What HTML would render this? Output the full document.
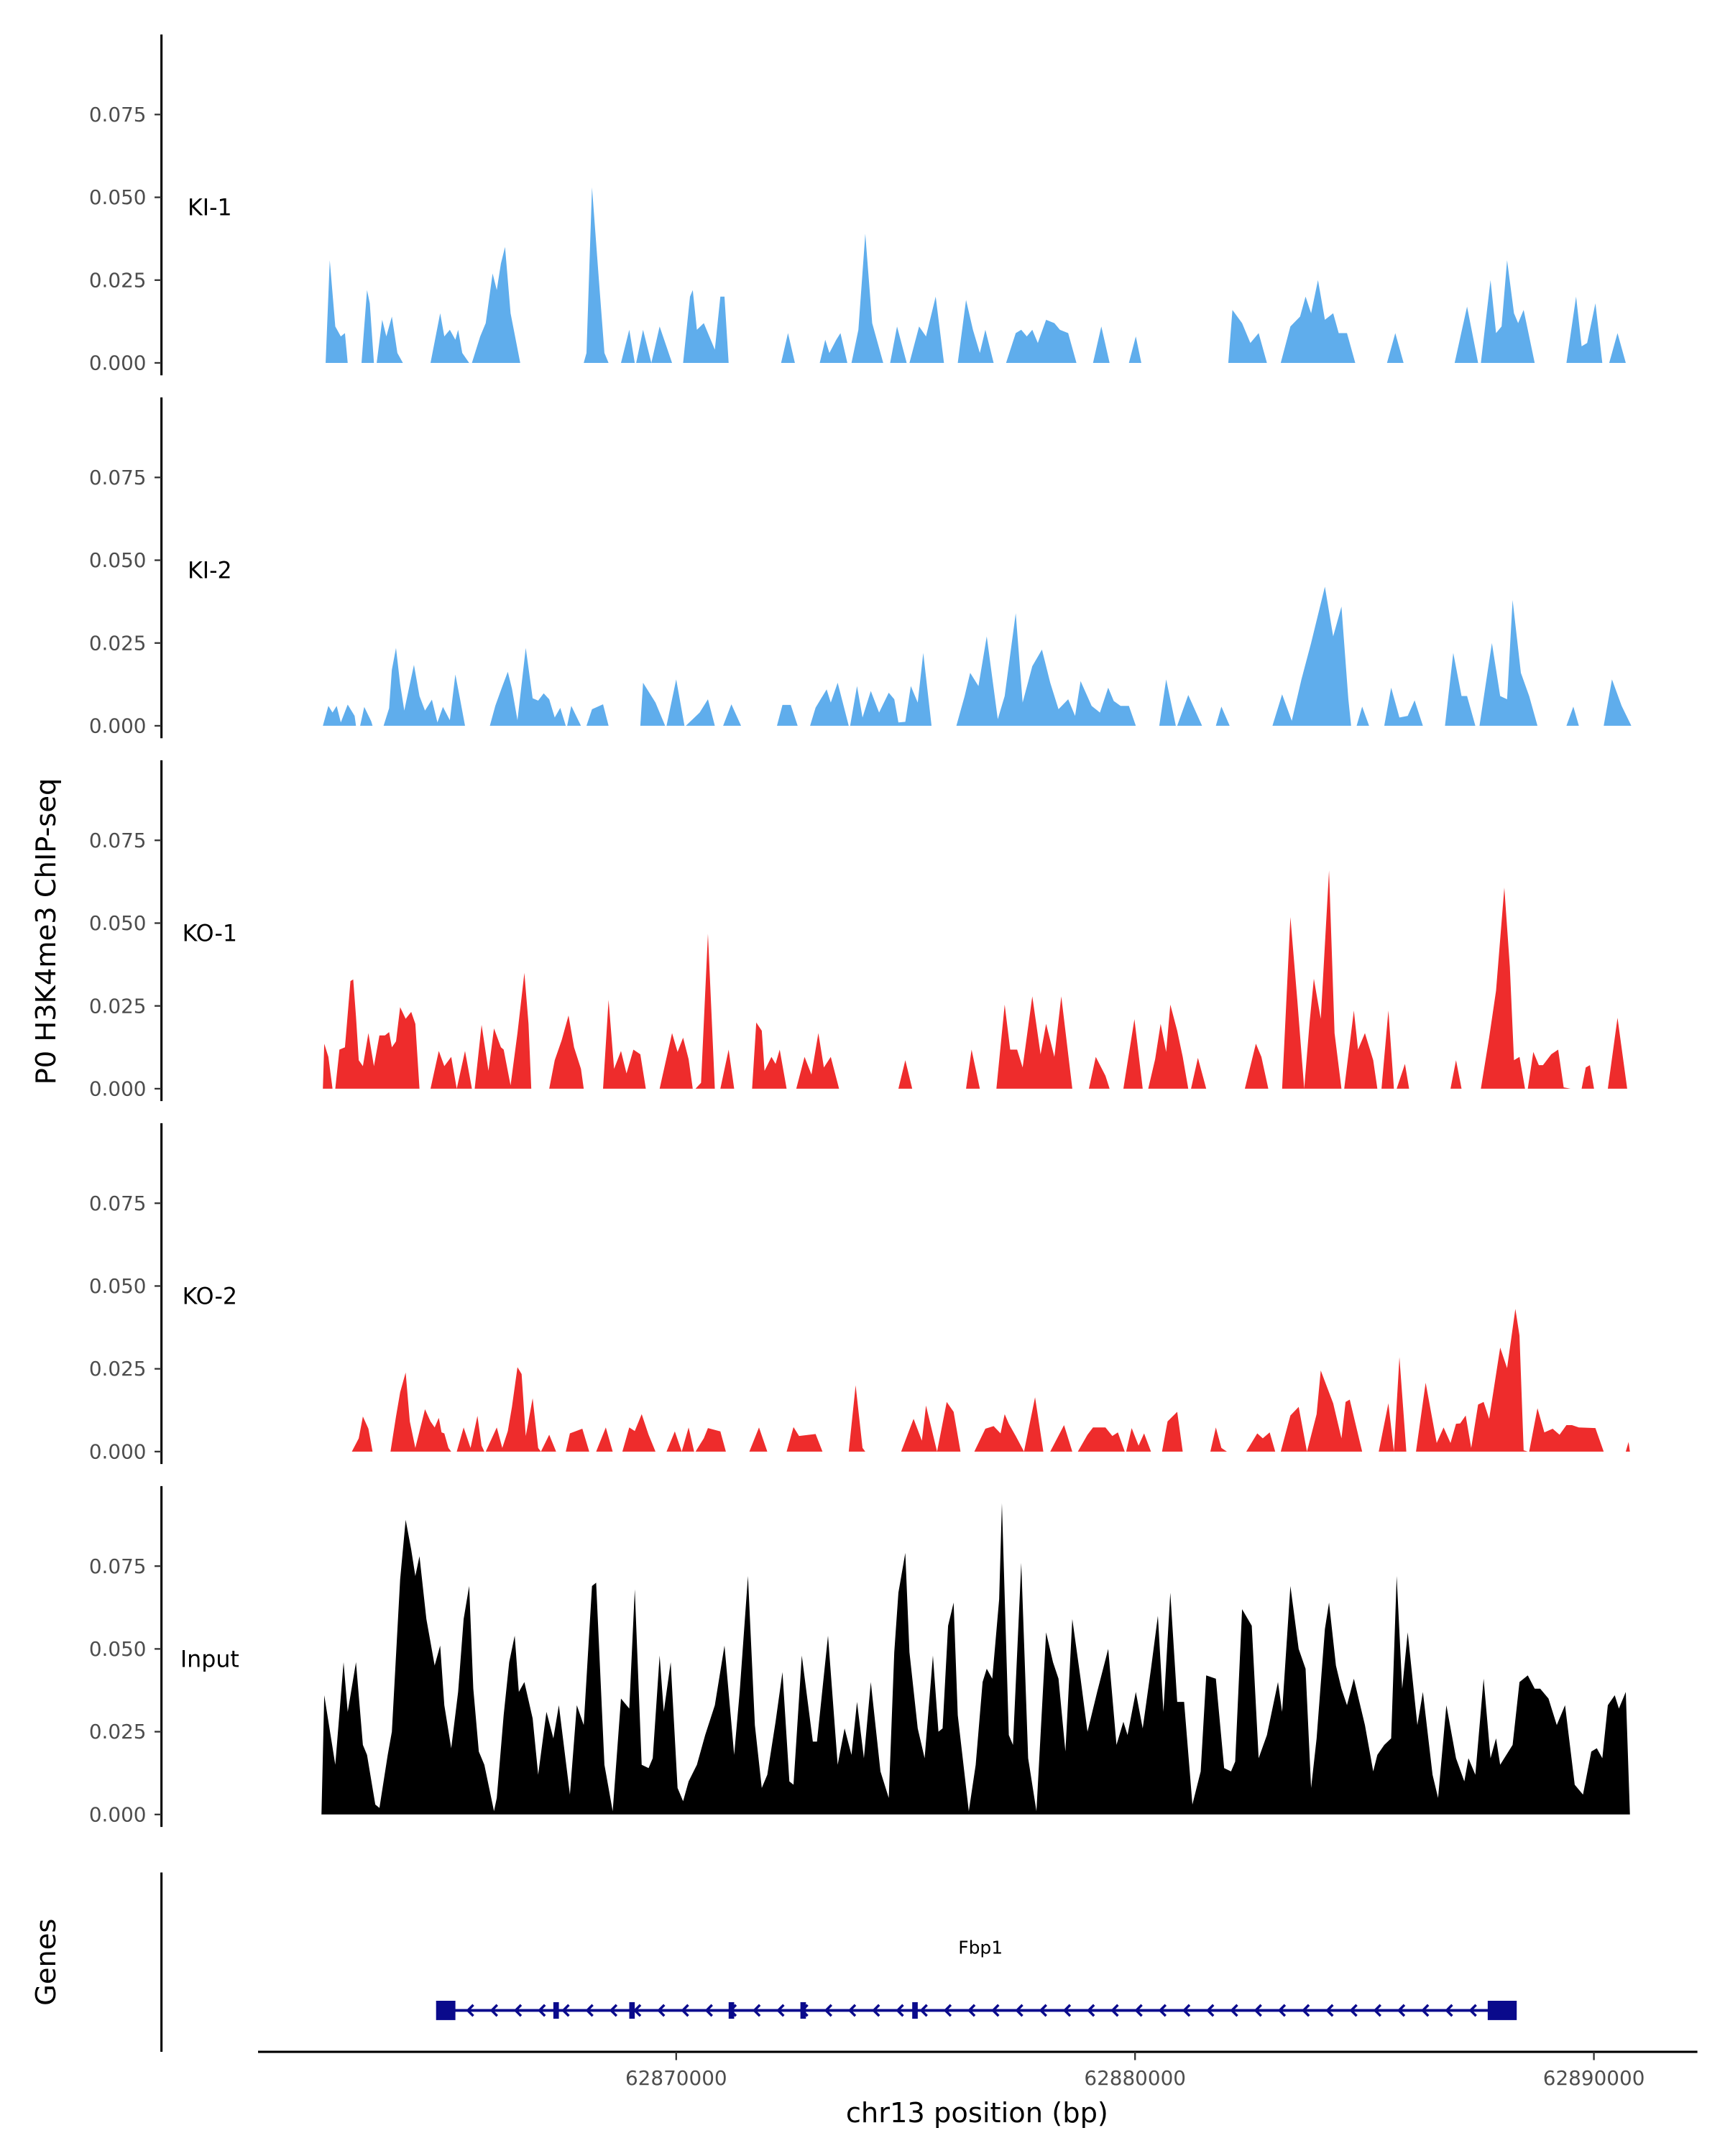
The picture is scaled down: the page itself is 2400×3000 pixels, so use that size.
<!DOCTYPE html>
<html><head><meta charset="utf-8">
<style>
html,body{margin:0;padding:0;background:#fff;}
svg{display:block;font-family:"DejaVu Sans","Liberation Sans",sans-serif;}
</style></head>
<body>
<svg id="chart" xmlns="http://www.w3.org/2000/svg" width="2400" height="3000" viewBox="0 0 1250 1562.5">
<rect x="0" y="0" width="1250" height="1562.5" fill="#fff"/>
<g id="tracks"></g>
<g id="genes"></g>
<g id="xaxis"></g>
<text x="40" y="675" transform="rotate(-90 40 675)" text-anchor="middle" font-size="20" fill="#000">P0 H3K4me3 ChIP-seq</text>
<text x="40" y="1422" transform="rotate(-90 40 1422)" text-anchor="middle" font-size="20" fill="#000">Genes</text>
<text x="708" y="1538" text-anchor="middle" font-size="20" fill="#000">chr13 position (bp)</text>
</svg>
<script>
// ---- data: coverage segments as [bin, value(x1e-3), bin, value, ...]; bins are 30.08 bp wide
const BIN0 = 62862149;
const BINW = 30.08;
const VALUNIT = 0.001;
const trackNames = ["KI-1","KI-2","KO-1","KO-2","Input"];
const trackColors = ["#5fadec","#5fadec","#ee2c2c","#ee2c2c","#000000"];
const yTicks = [0, 0.025, 0.05, 0.075];
const yTickLabels = ["0.000","0.025","0.050","0.075"];
const xTicks = [62870000, 62880000, 62890000];
const xTickLabels = ["62870000","62880000","62890000"];

const ki1 = [
[7,0,10,31,14,11,18,8,21,9,23,0],
[33,0,37,22,39,18,42,0],
[44,0,48,13,51,8,55,14,59,3,63,0],
[83,0,90,15,93,8,97,10,101,7,103,10,106,3,111,0],
[113,0,119,8,123,12,128,27,131,22,134,30,137,35,141,15,148,0],
[194,0,196,3,200,53,205,25,209,3,212,0],
[221,0,227,10,231,0],
[232,0,237,10,243,0],
[243,0,249,11,258,0],
[266,0,271,20,273,22,276,10,281,12,285,8,289,4,293,20,296,20,299,0],
[337,0,342,9,347,0],
[365,0,369,7,372,3,377,7,380,9,385,0],
[388,0,393,10,398,39,403,12,411,0],
[416,0,421,11,428,0],
[430,0,437,11,442,8,449,20,455,0],
[465,0,471,19,476,10,481,3,485,10,491,0],
[500,0,507,9,511,10,515,8,519,10,523,6,529,13,535,12,539,10,545,9,551,0],
[563,0,569,11,575,0],
[589,0,594,8,598,0],
[661,0,664,16,671,12,677,6,683,9,689,0],
[699,0,706,11,713,14,717,20,721,15,726,25,731,13,737,15,741,9,747,9,753,0],
[776,0,782,9,788,0],
[825,0,834,17,842,0],
[844,0,851,25,855,9,859,11,863,31,868,15,871,12,875,16,883,0],
[906,0,913,20,917,5,921,6,927,18,932,0],
[937,0,943,9,949,0]
];
const ki2 = [
[5,0,9,6,12,4,15,6,18,1,23,6.4,28,3,29,0],
[32,0,35,5.7,40,1.4,41,0],
[49,0,53,5.3,55,16.9,58,23.5,61,12.6,64,4.6,68,12.6,71,18.4,75,9,79,4.6,84,7.9,88,1,92,5.7,97,1.7,101,15.5,104,9,108,0],
[126,0,130,6.1,135,11.9,139,16.3,142,11.2,146,1.7,152,23.5,157,8.3,161,7.6,165,9.8,169,8,173,2.5,177,5.4,181,0],
[182,0,185,6,192,0],
[196,0,200,5,208,6.5,212,0],
[235,0,237,13,246,7,253,0],
[254,0,261,14,267,0],
[268,0,278,4,284,8,289,0],
[295,0,301,6.5,308,0],
[334,0,338,6.3,344,6.3,349,0],
[358,0,362,5.5,370,11,373,7,378,13,386,0],
[387,0,392,12,396,2.5,402,10.5,408,4,415,10,419,8,422,1,427,1.2,431,12,436,7,440,22,446,0],
[464,0,470,9,474,16,480,12,486,27,494,2,499,9,507,34,512,7,519,18,526,23,532,13,538,5,545,8,550,3,554,13.5,562,6,568,4,574,11.5,578,7.5,583,6,589,6,594,0],
[611,0,616,14,623,0],
[624,0,632,9.3,642,0],
[652,0,656,5.8,662,0],
[693,0,700,9.5,707,1.5,714,14,721,25,731,42,737,27,743,36,748,8,750,0],
[754,0,758,5.8,763,0],
[774,0,779,11.5,785,2.5,791,3,796,7.7,802,0],
[818,0,824,22,830,9,834,9,840,0],
[843,0,852,25,858,9,863,8,867,38,873,16,879,9,885,0],
[906,0,911,5.8,915,0],
[933,0,939,14,946,6,953,0]
];
const ko1 = [
[5,0,6,13.6,9,9.6,12,0],
[14,0,17,11.8,21,12.5,25,32.5,27,33,29,21.8,31,8.6,34,6.8,38,16.8,42,6.8,46,16.1,50,16.1,53,17.1,55,12.5,58,14.3,61,24.6,65,21.1,69,23.2,72,19.6,75,0],
[83,0,89,11.4,93,6.8,98,9.6,102,0,108,11.4,113,0],
[115,0,120,19.3,125,5.4,129,18.2,134,12.5,136,11.8,141,1,146,16.8,151,35,154,19.6,156,0],
[169,0,173,8.6,178,14.6,183,22.1,187,12.5,192,6,194,0],
[208,0,212,26.8,216,6,221,11.4,225,4.6,230,11.8,235,10.4,239,0],
[249,0,258,16.8,262,11.1,266,15.4,270,8.9,273,0],
[275,0,279,1.8,284,46.8,289,0],
[293,0,299,11.8,303,0],
[316,0,319,20,323,17.5,325,5.4,330,9.6,333,7.5,336,11.8,341,0],
[348,0,354,9.6,359,4.3,364,16.8,368,6.4,373,9.6,379,0],
[422,0,427,8.6,432,0],
[471,0,475,11.8,481,0],
[493,0,499,25.4,503,11.8,508,11.8,512,6.4,519,27.9,525,10.4,529,19.6,535,9.6,540,27.9,548,0],
[554,0,560,0,565,9.6,572,3.9,575,0],
[585,0,593,21,599,0],
[603,0,608,8.9,612,19.6,616,11.1,619,25.4,624,17.5,628,9.6,632,0],
[634,0,639,9.3,645,0],
[673,0,681,13.6,685,9.6,690,0],
[700,0,706,51.8,711,26.8,716,0,720,20.4,723,33.2,728,21.1,734,65.9,738,16.8,743,0],
[745,0,752,23.6,755,11.8,760,16.8,766,8.6,769,0,772,0,777,23.6,781,0],
[783,0,789,7.5,792,0],
[822,0,826,8.6,830,0],
[844,0,850,15.4,855,29.6,861,60.7,865,36.8,868,8.6,872,9.6,876,0],
[878,0,882,11.1,886,7.1,889,7.1,895,10.4,900,11.8,904,0.4,909,0],
[917,0,920,6.4,923,7.1,926,0],
[936,0,943,21.4,950,0]
];
const ko2 = [
[26,0,31,4,34,10.6,38,6.9,41,0],
[54,0,58,10.6,61,17.9,65,23.9,68,9.1,72,1.1,79,12.8,83,9.1,86,7.3,89,10.2,91,5.8,93,5.5,96,1.1,98,0],
[102,0,107,7.3,112,1.1,117,10.8,120,1.8,122,0],
[123,0,131,7.3,135,1.1,139,6.2,142,13.5,146,25.5,149,23.4,152,4.7,157,16.1,161,1.1,163,0],
[163,0,169,5.1,174,0],
[181,0,184,5.5,193,6.9,198,0],
[203,0,210,7.3,215,0],
[222,0,227,7.3,231,6.2,236,11.3,241,5.1,246,0],
[254,0,260,6.1,265,0,270,7.3,274,0],
[275,0,281,4,284,7.1,293,6.1,297,0],
[314,0,321,7.3,327,0],
[341,0,346,7.4,350,4.7,362,5.3,367,0],
[386,0,391,20,396,1.1,398,0],
[424,0,433,9.9,439,3.3,442,13.9,450,0,457,15,462,12,467,0],
[477,0,485,6.9,491,7.7,496,5.5,499,11.3,502,8.4,507,4.7,513,0],
[513,0,521,16.4,527,0],
[532,0,542,8,548,0],
[552,0,559,5.1,563,7.3,572,7.3,577,4.7,581,5.8,586,0],
[587,0,591,7.1,596,1.8,600,5.5,605,0],
[613,0,617,9.1,624,12,628,0],
[648,0,652,7.3,656,1.1,660,0],
[674,0,682,5.5,686,4,691,5.8,695,0],
[699,0,706,10.9,712,13.5,718,0,725,11.3,728,24.5,737,14.6,743,4,746,15,749,15.7,758,0],
[770,0,777,14.6,781,0,785,28.5,790,0],
[797,0,804,20.8,812,2.6,817,7.3,822,2.6,826,8.4,829,8.5,833,10.9,837,1.1,842,14.2,846,15,850,9.9,858,31.4,863,25.2,869,43.1,872,35,875,0.4,878,0],
[879,0,885,13.1,890,5.8,896,6.9,901,5.1,906,8,910,8,915,7.3,927,7.1,933,0],
[949,0,951,2.9,952,0]
];
const inputTrack = [[
4,0,6,36,14,15,20,46,23,31,29,46,34,21,37,18,43,3,46,2,52,18,55,25,61,71,65,89,69,80,72,72,75,78,80,59,86,45,90,51,93,33,98,20,103,37,107,59,111,69,114,38,118,19,122,15,129,1,131,5,136,30,140,46,144,54,147,37,151,40,157,29,161,12,167,31,172,23,176,33,184,6,189,33,194,27,200,69,203,70,209,15,215,1,221,35,227,32,231,68,236,15,241,14,244,17,249,48,252,31,257,46,262,8,266,4,270,10,276,15,282,24,289,33,296,51,303,18,307,37,313,72,318,27,323,8,327,12,333,28,338,43,343,10,346,9,352,48,360,22,363,22,371,54,378,15,383,26,388,18,392,34,397,17,402,40,409,13,415,5,419,49,422,67,427,79,430,49,436,26,441,17,447,48,451,25,454,26,458,57,462,64,465,30,473,1,478,15,483,40,486,44,490,41,495,65,497,94,502,24,505,21,511,76,516,17,522,1,529,55,534,46,538,41,543,19,548,59,554,41,559,25,566,37,574,50,580,21,585,28,588,24,594,37,599,26,605,44,610,60,614,31,619,67,624,34,629,34,635,3,641,13,645,42,652,41,658,14,663,13,666,16,671,62,678,57,683,17,689,24,697,40,700,31,706,69,712,50,717,44,721,8,725,23,731,56,734,64,739,45,743,38,747,33,752,41,760,27,766,13,769,18,774,21,779,23,783,72,787,38,791,55,798,27,802,37,809,12,813,5,819,33,826,17,832,10,835,17,840,12,846,41,851,17,855,23,858,15,867,21,872,40,878,42,883,38,887,38,893,35,899,27,905,33,912,9,918,6,924,19,928,20,932,17,936,33,941,36,944,32,949,37,952,0
]];
const tracks = [ki1, ki2, ko1, ko2, inputTrack];

// gene model (bp)
const geneStart = 62864977;
const geneEnd = 62888287;
const bigExons = [[62864767,62865188],[62887686,62888318]];
const smallExons = [62867383, 62869037, 62871203, 62872767, 62875204];
const geneName = "Fbp1";

// ---- scales
const NS = "http://www.w3.org/2000/svg";
function xScale(bp){ return 490 + (bp - 62870000) / 1000 * 33.25; }
function binToBp(b){ return BIN0 + b * BINW; }
function baseY(i){ return 263 + i * 263; }
function yScale(i, v){ return baseY(i) - v * 2400; }
function mk(tag, attrs, parent){
  const e = document.createElementNS(NS, tag);
  for (const k in attrs) e.setAttribute(k, attrs[k]);
  parent.appendChild(e);
  return e;
}

const gTracks = document.getElementById('tracks');
tracks.forEach((segs, i) => {
  const g = mk('g', {}, gTracks);
  
  
  const y0 = baseY(i);
  const ax = mk('line', {x1:117, x2:117, y1:y0-238, y2:y0+9, stroke:'#000', 'stroke-width':1.6}, g);
  
  
  yTicks.forEach((t, k) => {
    const y = yScale(i, t);
    const tl = mk('line', {x1:112, x2:117, y1:y, y2:y, stroke:'#333', 'stroke-width':1.2}, g);
    
    
    const tx = mk('text', {x:106, y:y+5, 'text-anchor':'end', 'font-size':14.5, fill:'#4d4d4d'}, g);
    tx.textContent = yTickLabels[k];
    
    
  });
  const lab = mk('text', {x:152, y:y0-107, 'text-anchor':'middle', 'font-size':16.5, fill:'#000'}, g);
  lab.textContent = trackNames[i];
  
  
  segs.forEach(seg => {
    let d = '';
    for (let j = 0; j < seg.length; j += 2) {
      const x = xScale(binToBp(seg[j]));
      const y = yScale(i, seg[j+1] * VALUNIT);
      d += (j === 0 ? 'M' : 'L') + x.toFixed(2) + ' ' + y.toFixed(2);
    }
    d += 'L' + xScale(binToBp(seg[seg.length-2])).toFixed(2) + ' ' + y0 + 'L' + xScale(binToBp(seg[0])).toFixed(2) + ' ' + y0 + 'Z';
    const p = mk('path', {d: d, fill: trackColors[i]}, g);
    
    
  });
});

// gene track
const gG = document.getElementById('genes');
const gax = mk('line', {x1:117, x2:117, y1:1357, y2:1487, stroke:'#000', 'stroke-width':1.6}, gG);


const gy = 1457;
const navy = '#0a0a8c';
const gl = mk('line', {x1:xScale(geneStart), x2:xScale(geneEnd), y1:gy, y2:gy, stroke:navy, 'stroke-width':2}, gG);


for (let x = xScale(geneStart) + 17; x < xScale(geneEnd) - 10; x += 17.3) {
  const c = mk('path', {d:`M${(x+3).toFixed(1)} ${gy-4}L${(x-1).toFixed(1)} ${gy}L${(x+3).toFixed(1)} ${gy+4}`, fill:'none', stroke:navy, 'stroke-width':1.8}, gG);
  
  
}
bigExons.forEach(e => {
  const r = mk('rect', {x:xScale(e[0]), y:gy-7, width:xScale(e[1])-xScale(e[0]), height:14, fill:navy}, gG);
  
  
});
smallExons.forEach(e => {
  const r = mk('rect', {x:xScale(e)-2, y:gy-6, width:4, height:12, fill:navy}, gG);
  
  
});
const gn = mk('text', {x:xScale((geneStart+geneEnd)/2), y:1416, 'text-anchor':'middle', 'font-size':13, fill:'#000'}, gG);
gn.textContent = geneName;



// x axis
const gX = document.getElementById('xaxis');
const xl = mk('line', {x1:187, x2:1230, y1:1487, y2:1487, stroke:'#000', 'stroke-width':1.6}, gX);


xTicks.forEach((t, k) => {
  const x = xScale(t);
  const tl = mk('line', {x1:x, x2:x, y1:1487, y2:1493, stroke:'#333', 'stroke-width':1.2}, gX);
  
  
  const tx = mk('text', {x:x, y:1511, 'text-anchor':'middle', 'font-size':14.5, fill:'#4d4d4d'}, gX);
  tx.textContent = xTickLabels[k];
  
  
});
</script>
</body></html>
